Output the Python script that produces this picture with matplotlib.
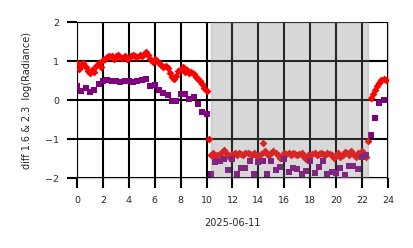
import numpy as np
import matplotlib
matplotlib.use("Agg")
import matplotlib.pyplot as plt

# red series: 10-minute cadence, hour by hour (6 values per hour)
red_vals = [
    0.95, 0.80, 0.88, 0.95, 0.85, 0.75,
    0.70, 0.78, 0.72, 0.88, 0.95, 0.85,
    1.02, 1.05, 1.10, 1.14, 1.12, 1.05,
    1.12, 1.15, 1.10, 1.08, 1.12, 1.06,
    1.08, 1.12, 1.16, 1.12, 1.10, 1.15,
    1.12, 1.18, 1.22, 1.15, 1.05, 0.98,
    1.05, 1.00, 0.95, 0.90, 0.85, 0.88,
    0.82, 0.70, 0.60, 0.55, 0.62, 0.75,
    0.80, 0.85, 0.72, 0.78, 0.70, 0.72,
    0.68, 0.60, 0.55, 0.48, 0.40, 0.30,
    0.22, -1.00, -1.40, -1.35, -1.48, -1.42,
    -1.38, -1.32, -1.28, -1.35, -1.42, -1.48,
    -1.38, -1.36, -1.40, -1.35, -1.38, -1.42,
    -1.36, -1.35, -1.38, -1.42, -1.36, -1.40,
    -1.45, -1.38, -1.10, -1.30, -1.38, -1.42,
    -1.36, -1.30, -1.35, -1.42, -1.48, -1.45,
    -1.36, -1.38, -1.35, -1.40, -1.36, -1.38,
    -1.42, -1.38, -1.35, -1.45, -1.50, -1.40,
    -1.42, -1.38, -1.36, -1.40, -1.38, -1.36,
    -1.38, -1.42, -1.36, -1.38, -1.40, -1.48,
    -1.40, -1.36, -1.45, -1.40, -1.32, -1.35,
    -1.42, -1.30, -1.38, -1.45, -1.35, -1.40,
    -1.30, -1.38, -1.45, -1.05, 0.05, 0.15,
    0.25, 0.35, 0.45, 0.52, 0.55, 0.52,
]
red_hours = list(np.arange(len(red_vals)) / 6.0)

# purple series: 20-minute cadence (3 values per hour)
purple_vals = [
    0.35, 0.22, 0.30,
    0.20, 0.25, 0.40,
    0.48, 0.52, 0.50,
    0.50, 0.46, 0.50,
    0.48, 0.46, 0.48,
    0.52, 0.55, 0.35,
    0.38, 0.25, 0.18,
    0.12, -0.02, -0.03,
    0.15, 0.15, 0.02,
    0.08, -0.10, -0.30,
    -0.35, -1.90, -1.60,
    -1.55, -1.50, -1.80,
    -1.50, -1.90, -1.75,
    -1.75, -1.55, -1.90,
    -1.60, -1.55, -1.90,
    -1.55, -1.80, -1.72,
    -1.50, -1.85, -1.75,
    -1.78, -1.90, -1.82,
    -1.55, -1.88, -1.72,
    -1.55, -1.90, -1.85,
    -1.88, -1.75, -1.92,
    -1.70, -1.68, -1.78,
    -1.45, -1.40, -0.90,
    -0.45, -0.08, 0.00,
]
purple_hours = list(np.arange(len(purple_vals)) / 3.0)

night_start, night_end = 10.34, 22.45
x_ticks = [0, 2, 4, 6, 8, 10, 12, 14, 16, 18, 20, 22, 24]
y_ticks = [-2, -1, 0, 1, 2]

fig = plt.figure(figsize=(4.14, 2.48), dpi=100)
ax = fig.add_axes([0.186, 0.282, 0.751, 0.629])

ax.scatter(red_hours, red_vals, marker="D", s=16, color="red", linewidths=0, zorder=3)
ax.scatter(purple_hours, purple_vals, marker="s", s=14, color="purple", linewidths=0, zorder=4)
ax.axvspan(night_start, night_end, color="gray", alpha=0.3, zorder=5)

ax.set_xlim(0, 24)
ax.set_ylim(-2, 2)
ax.set_xticks(x_ticks)
ax.set_yticks(y_ticks)
ax.set_axisbelow(False)
ax.grid(True, color="black", linewidth=1.5)
for gl in ax.get_xgridlines() + ax.get_ygridlines():
    gl.set_zorder(6)
for s in ax.spines.values():
    s.set_color("#cccccc")
    s.set_linewidth(1.0)
    s.set_zorder(1)
ax.tick_params(axis="both", labelsize=6.8, length=7, width=1.5, color="black",
               labelcolor="#262626", pad=6)
ax.set_xlabel("2025-06-11", fontsize=7.0, color="#262626", labelpad=9)
ax.set_ylabel("diff 1.6 & 2.3  log(Radiance)", fontsize=7.0, color="#262626", labelpad=9)

fig.savefig("out.png", dpi=100)
